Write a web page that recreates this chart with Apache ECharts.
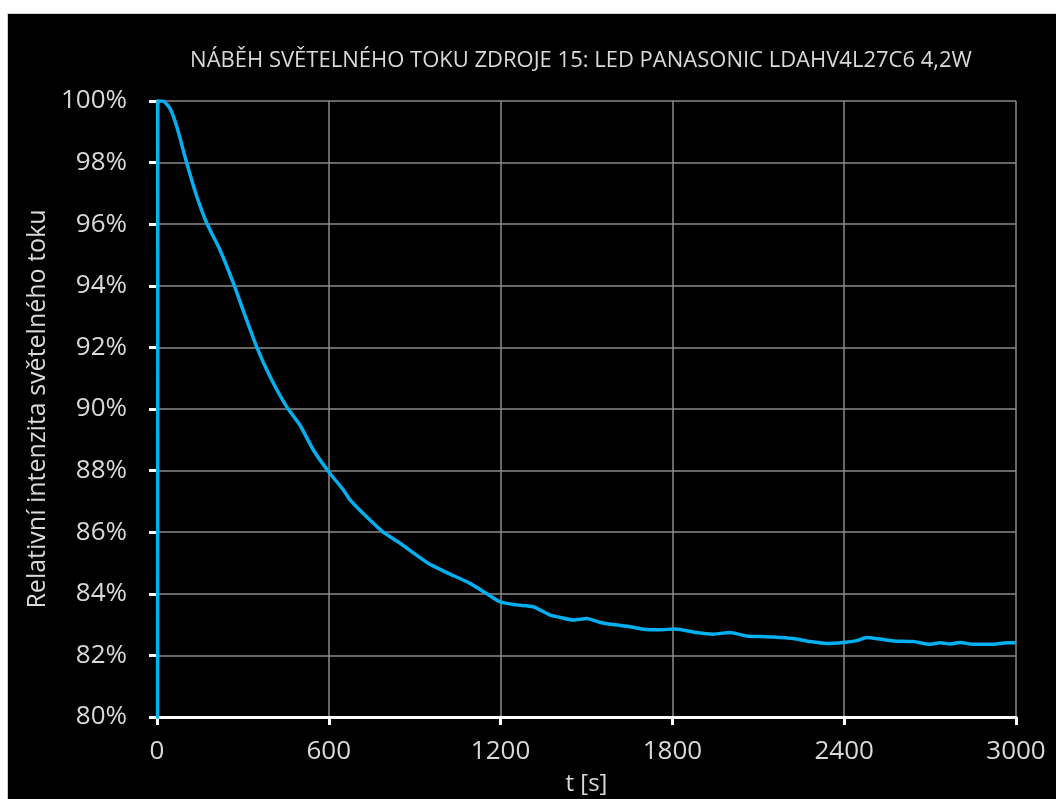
<!DOCTYPE html>
<html>
<head>
<meta charset="utf-8">
<title>Náběh světelného toku</title>
<script src="https://cdn.jsdelivr.net/npm/echarts@6/dist/echarts.min.js"></script>
<style>
	html, body { margin: 0; padding: 0; background: #ffffff; }
	#chart { width: 1056px; height: 799px; }
</style>
</head>
<body>
<div id="chart"></div>
<script>
// čas [s]
var times = [0, 3, 20, 45, 69, 104, 139, 174, 220, 267, 301, 348, 395, 453, 499, 546, 598, 651, 674, 732,
	790, 849, 947, 1012, 1093, 1151, 1198, 1256, 1314, 1373, 1396, 1454, 1501, 1547, 1594, 1652, 1698, 1757,
	1809, 1885, 1943, 2001, 2059, 2106, 2152, 2222, 2281, 2339, 2397, 2444, 2479, 2525, 2572, 2641, 2700,
	2735, 2770, 2804, 2851, 2921, 2967, 3000];
// relativní intenzita [%]
var flux = [0, 100, 100, 99.76, 99.17, 97.98, 96.9, 96.03, 95.16, 94.08, 93.2, 92.02, 91.05, 90.07, 89.48, 88.67,
	87.98, 87.37, 87.05, 86.5, 86.0, 85.64, 84.99, 84.69, 84.34, 84.01, 83.74, 83.64, 83.58, 83.31, 83.26,
	83.15, 83.2, 83.07, 83.0, 82.93, 82.85, 82.83, 82.86, 82.74, 82.69, 82.74, 82.63, 82.61, 82.6, 82.55,
	82.45, 82.39, 82.42, 82.48, 82.58, 82.53, 82.47, 82.45, 82.36, 82.41, 82.37, 82.42, 82.36, 82.36,
	82.41, 82.41];

var titleText = 'NÁBĚH SVĚTELNÉHO TOKU ZDROJE 15: LED PANASONIC LDAHV4L27C6 4,2W';
var xName = 't [s]';
var yName = 'Relativní intenzita světelného toku';

var points = [];
for (var i = 0; i < times.length; i++) {
	points.push([times[i], flux[i]]);
}

var font = 'Open Sans';
var labelColor = '#d9d9d9';

var myChart = echarts.init(document.getElementById('chart'));
myChart.setOption({
	backgroundColor: 'transparent',
	animation: false,
	graphic: [{
		type: 'rect',
		z: -10,
		shape: { x: 7.5, y: 13.5, width: 1060, height: 800 },
		style: { fill: '#000000', stroke: '#d0d0d0', lineWidth: 1 }
	}],
	title: {
		text: titleText,
		left: 576,
		top: 45,
		textAlign: 'center',
		textStyle: { color: labelColor, fontFamily: font, fontSize: 22, fontWeight: 'normal' }
	},
	grid: { left: 157, right: 40, top: 101, bottom: 82, containLabel: false, outerBoundsMode: 'none' },
	xAxis: {
		type: 'value',
		min: 0,
		max: 3000,
		interval: 600,
		name: xName,
		nameLocation: 'middle',
		nameGap: 55,
		nameTextStyle: { color: labelColor, fontFamily: font, fontSize: 24 },
		axisLine: { show: true, onZero: false, lineStyle: { color: '#ffffff', width: 3 } },
		axisTick: { show: true, length: 8, lineStyle: { color: '#ffffff', width: 3 } },
		axisLabel: {
			color: labelColor, fontFamily: font, fontSize: 26, margin: 22,
			formatter: function (v) { return String(v); }
		},
		splitLine: { show: true, lineStyle: { color: '#8a8a8a', width: 1.5 } }
	},
	yAxis: {
		type: 'value',
		min: 80,
		max: 100,
		interval: 2,
		name: yName,
		nameLocation: 'middle',
		nameGap: 107,
		nameTextStyle: { color: labelColor, fontFamily: font, fontSize: 25 },
		axisLine: { show: true, onZero: false, lineStyle: { color: '#ffffff', width: 3 } },
		axisTick: { show: true, length: 8, lineStyle: { color: '#ffffff', width: 3 } },
		axisLabel: { color: labelColor, fontFamily: font, fontSize: 26, margin: 30, formatter: '{value}%' },
		splitLine: { show: true, lineStyle: { color: '#8a8a8a', width: 1.5 } }
	},
	series: [{
		type: 'line',
		data: points,
		showSymbol: false,
		smooth: 0.2,
		clip: true,
		lineStyle: { color: '#00b0f0', width: 3.5 },
		itemStyle: { color: '#00b0f0' }
	}]
});
</script>
</body>
</html>
